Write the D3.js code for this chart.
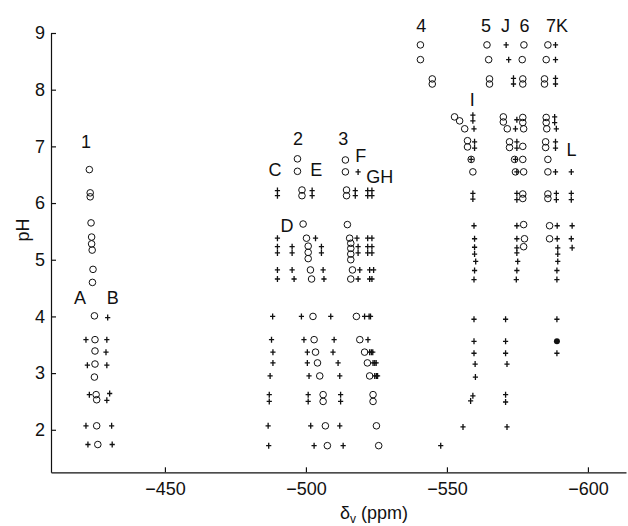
<!DOCTYPE html>
<html>
<head>
<meta charset="utf-8">
<script src="https://cdn.jsdelivr.net/npm/d3@7"></script>
<style>
  body { margin: 0; background: #fff; }
  svg { display: block; font-family: 'Liberation Sans', Arial, sans-serif; }
</style>
</head>
<body>
<div id="chart"></div>
<script>
const width = 628
const height = 526

// open circles (numbered series) and plus marks (lettered series), [ppm, pH]
const s1 = [[-423.2, 6.59], [-423.5, 6.18], [-423.5, 6.11], [-423.8, 5.65], [-424, 5.4], [-424, 5.28], [-424.2, 5.17], [-424.5, 4.83], [-424.3, 4.6], [-425, 4.01], [-425.2, 3.59], [-425.2, 3.39], [-425.2, 3.16], [-425, 2.93], [-425.6, 2.62], [-425.8, 2.53], [-425.8, 2.07], [-426.2, 1.74]]
const sA = [[-422.0, 3.59], [-422.5, 3.14], [-423.2, 2.62], [-422.0, 2.07], [-422.7, 1.74]]
const sB = [[-429.7, 3.98], [-429.4, 3.59], [-429.1, 3.37], [-429.4, 3.14], [-430.4, 2.64], [-429.4, 2.52], [-431.1, 2.07], [-431.3, 1.74]]

const s2 = [[-497.0, 6.78], [-497.0, 6.56], [-498.6, 6.23], [-498.6, 6.13], [-499.0, 5.63], [-500.2, 5.38], [-500.8, 5.24], [-500.8, 5.13], [-500.8, 5.02], [-501.6, 4.82], [-502.0, 4.66], [-502.5, 4.0], [-502.9, 3.59], [-503.4, 3.37], [-504.1, 3.18], [-504.9, 2.95], [-506.1, 2.62], [-506.1, 2.5], [-506.9, 2.07], [-507.6, 1.72]]
const sC = [[-489.9, 6.22], [-489.9, 6.13], [-489.9, 5.38], [-489.9, 5.23], [-489.9, 5.12], [-489.9, 4.82], [-489.9, 4.66], [-488.2, 4.0], [-487.8, 3.59], [-488.3, 3.37], [-488.3, 3.18], [-487.3, 2.95], [-487.0, 2.62], [-487.0, 2.5], [-486.6, 2.07], [-486.8, 1.72]]
const sD = [[-495.1, 5.23], [-495.1, 5.12], [-495.1, 4.82], [-495.8, 4.66], [-498.4, 4.0], [-499.3, 3.59], [-500.5, 3.37], [-500.5, 3.18], [-501.1, 2.95], [-500.8, 2.62], [-500.8, 2.5], [-501.7, 2.07], [-502.9, 1.72]]
const sE = [[-502.2, 6.22], [-502.2, 6.13], [-503.4, 5.38], [-505.5, 5.23], [-505.5, 5.12], [-506.1, 4.82], [-506.4, 4.66], [-508.8, 4.0], [-510.0, 3.59], [-509.6, 3.37], [-511.4, 3.18], [-512.0, 2.95], [-512.3, 2.62], [-512.3, 2.5], [-512.0, 2.07], [-513.2, 1.72]]

const s3 = [[-514.0, 6.76], [-514.0, 6.55], [-514.4, 6.23], [-514.4, 6.13], [-514.7, 5.62], [-515.5, 5.38], [-515.9, 5.29], [-515.9, 5.2], [-515.9, 5.1], [-515.9, 5.0], [-516.5, 4.82], [-515.9, 4.66], [-517.9, 4.0], [-519.1, 3.59], [-520.8, 3.37], [-521.8, 3.18], [-522.6, 2.95], [-523.8, 2.62], [-523.8, 2.5], [-525.0, 2.07], [-525.8, 1.72]]
const sF = [[-518.5, 6.55], [-517.5, 6.22], [-517.5, 6.13], [-518.1, 5.38], [-518.5, 5.23], [-518.5, 5.12], [-519.1, 4.82], [-518.5, 4.66], [-520.8, 4.0], [-522.0, 3.59], [-522.6, 3.37], [-523.8, 3.18], [-524.4, 2.95]]
const sG = [[-521.9, 6.22], [-521.9, 6.13], [-521.9, 5.38], [-521.9, 5.23], [-521.9, 5.12], [-522.6, 4.82], [-522.6, 4.66], [-522.4, 4.0], [-523.2, 3.37], [-524.4, 3.18], [-525.0, 2.95]]
const sH = [[-523.4, 6.22], [-523.4, 6.13], [-523.4, 5.38], [-523.4, 5.23], [-523.4, 5.12], [-524.0, 4.82], [-523.4, 4.66], [-522.9, 4.0], [-523.7, 3.37], [-524.9, 3.18], [-525.4, 2.95]]

const s4 = [[-540.6, 8.79], [-540.6, 8.53], [-544.8, 8.19], [-544.8, 8.1], [-552.7, 7.52], [-554.5, 7.45], [-556.3, 7.31], [-557.3, 7.1], [-557.3, 6.99], [-558.6, 6.77], [-559.2, 6.55]]
const sI = [[-559.2, 7.55], [-559.2, 7.45], [-559.6, 7.31], [-559.8, 7.08], [-559.8, 6.97], [-558.6, 6.77], [-559.2, 6.17], [-559.2, 6.07], [-559.6, 5.6], [-559.8, 5.37], [-559.8, 5.22], [-559.8, 5.1], [-560.2, 4.97], [-559.8, 4.81], [-559.6, 4.65], [-559.6, 3.95], [-559.6, 3.56], [-559.6, 3.35], [-560.0, 3.16], [-560.1, 2.93], [-559.2, 2.6], [-558.4, 2.51], [-555.7, 2.05], [-547.8, 1.72]]
const s5 = [[-564.2, 8.79], [-564.8, 8.53], [-565.1, 8.19], [-565.1, 8.1], [-570.0, 7.52], [-570.0, 7.43], [-571.4, 7.31], [-572.2, 7.08], [-572.2, 6.98], [-574.0, 6.77], [-574.3, 6.55]]
const sJ = [[-571.0, 8.79], [-571.9, 8.53], [-573.6, 8.2], [-573.6, 8.1], [-574.8, 7.47], [-574.3, 7.31], [-574.8, 7.08], [-574.8, 6.97], [-574.3, 6.77], [-574.8, 6.55], [-574.8, 6.17], [-574.8, 6.06], [-574.8, 5.6], [-574.8, 5.37], [-574.8, 5.21], [-574.8, 5.12], [-575.1, 4.97], [-574.8, 4.81], [-574.6, 4.65], [-570.8, 3.95], [-570.8, 3.56], [-570.8, 3.35], [-571.3, 3.16], [-570.8, 2.62], [-570.8, 2.49], [-571.3, 2.05]]
const s6 = [[-577.3, 8.79], [-576.7, 8.53], [-576.9, 8.19], [-576.9, 8.1], [-576.9, 7.51], [-576.9, 7.42], [-577.2, 7.31], [-576.9, 7.0], [-576.9, 6.77], [-577.2, 6.55], [-576.9, 6.16], [-576.9, 6.08], [-577.2, 5.62], [-577.5, 5.37], [-577.2, 5.23]]
const s7 = [[-585.8, 8.79], [-585.2, 8.53], [-584.6, 8.19], [-584.6, 8.1], [-585.2, 7.51], [-585.2, 7.42], [-585.4, 7.31], [-585.0, 7.08], [-585.0, 6.98], [-585.8, 6.77], [-585.8, 6.55], [-585.8, 6.16], [-585.8, 6.08], [-586.4, 5.6], [-586.4, 5.37]]
const sK = [[-588.5, 8.79], [-588.5, 8.53], [-588.5, 8.2], [-588.5, 8.1], [-588.2, 7.52], [-588.2, 7.42], [-588.8, 7.31], [-588.5, 7.08], [-588.5, 6.97], [-588.5, 6.55], [-588.8, 6.17], [-588.8, 6.06], [-589.1, 5.6], [-589.1, 5.37], [-589.3, 5.21], [-589.3, 5.1], [-589.3, 4.97], [-589.0, 4.81], [-589.0, 4.65], [-589.0, 3.95], [-589.0, 3.35]]
const sL = [[-594.1, 6.55], [-594.1, 6.17], [-594.1, 6.06], [-594.4, 5.6], [-594.1, 5.37], [-594.4, 5.21]]
const filled = [[-589.0, 3.56]]

const circleSeries = [s1, s2, s3, s4, s5, s6, s7]
const plusSeries = [sA, sB, sC, sD, sE, sF, sG, sH, sI, sJ, sK, sL]

// series labels [text, ppm, pH]
const labels = [
  ['1', -422.0, 7.08], ['A', -419.9, 4.33], ['B', -431.5, 4.33],
  ['2', -497.2, 7.13], ['3', -513.2, 7.13], ['C', -489.0, 6.59], ['E', -503.7, 6.59],
  ['F', -519.4, 6.83], ['GH', -526.2, 6.47], ['D', -493.3, 5.6],
  ['4', -540.9, 9.14], ['5', -563.9, 9.14], ['J', -570.8, 9.14], ['6', -577.5, 9.14],
  ['7K', -589.0, 9.14], ['I', -559.0, 7.82], ['L', -594.2, 6.94]
]

const xTicks = [-450, -500, -550, -600]
const yTicks = [2, 3, 4, 5, 6, 7, 8, 9]

const x = d3.scaleLinear().domain([-409.6, -613.5]).range([51, 626])
const y = d3.scaleLinear().domain([1.25, 9]).range([472.3, 33])

const svg = d3
  .select('#chart')
  .append('svg')
  .attr('width', width)
  .attr('height', height)

const ink = '#111'

const xAxis = svg
  .append('g')
  .attr('transform', `translate(0,${y.range()[0]})`)
  .call(d3.axisBottom(x).tickValues(xTicks).tickSizeInner(-5).tickSizeOuter(0).tickPadding(10))
const yAxis = svg
  .append('g')
  .attr('transform', `translate(${x.range()[0]},0)`)
  .call(d3.axisLeft(y).tickValues(yTicks).tickSizeInner(-5).tickSizeOuter(0).tickPadding(6))

;[xAxis, yAxis].forEach((g) => {
  g.selectAll('path, line').attr('stroke', ink).attr('stroke-width', 1.2)
  g.selectAll('text').attr('fill', ink).attr('font-size', 18).attr('font-family', null)
})

svg
  .append('text')
  .attr('transform', 'translate(29,230) rotate(-90)')
  .attr('text-anchor', 'middle')
  .attr('font-size', 18)
  .attr('fill', ink)
  .text('pH')

const xTitle = svg
  .append('text')
  .attr('x', 374)
  .attr('y', 519)
  .attr('text-anchor', 'middle')
  .attr('font-size', 18)
  .attr('fill', ink)
xTitle.append('tspan').text('δ')
xTitle.append('tspan').attr('font-size', 12).attr('dy', 4).text('v')
xTitle.append('tspan').attr('dy', -4).text(' (ppm)')

const marks = svg.append('g')

marks
  .selectAll('circle.open')
  .data(circleSeries.flat())
  .join('circle')
  .attr('class', 'open')
  .attr('cx', (d) => x(d[0]))
  .attr('cy', (d) => y(d[1]))
  .attr('r', 3.3)
  .attr('fill', 'none')
  .attr('stroke', ink)
  .attr('stroke-width', 1)

marks
  .selectAll('path.plus')
  .data(plusSeries.flat())
  .join('path')
  .attr('class', 'plus')
  .attr('d', 'M-2.6,0H2.6M0,-3V3')
  .attr('transform', (d) => `translate(${x(d[0])},${y(d[1])})`)
  .attr('stroke', ink)
  .attr('stroke-width', 1.3)

marks
  .selectAll('circle.filled')
  .data(filled)
  .join('circle')
  .attr('class', 'filled')
  .attr('cx', (d) => x(d[0]))
  .attr('cy', (d) => y(d[1]))
  .attr('r', 3)
  .attr('fill', ink)

svg
  .append('g')
  .selectAll('text')
  .data(labels)
  .join('text')
  .attr('x', (d) => x(d[1]))
  .attr('y', (d) => y(d[2]))
  .attr('dy', '0.36em')
  .attr('text-anchor', 'middle')
  .attr('font-size', 18)
  .attr('fill', ink)
  .text((d) => d[0])
</script>
</body>
</html>
